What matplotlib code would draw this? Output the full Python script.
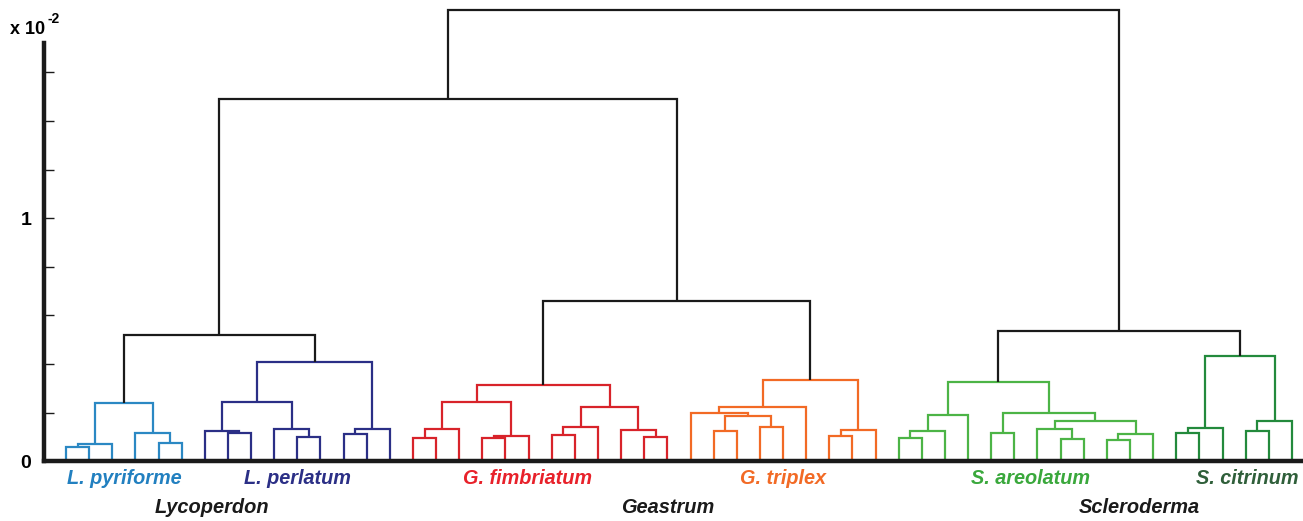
import matplotlib.pyplot as plt

# Subtrees for each species: (left, right, height); ints are leaf numbers within the species
species_names = ['L. pyriforme', 'L. perlatum', 'G. fimbriatum',
                 'G. triplex', 'S. areolatum', 'S. citrinum']
line_colors = ['#2b88c3', '#2b2f86', '#d8232a', '#f26a25', '#4cb446', '#238a3c']
text_colors = ['#2280c0', '#2b2f86', '#e8212a', '#f26a25', '#3aa83c', '#2f5f3a']

pyriforme = (((0, 1, 0.060), 2, 0.070), (3, (4, 5, 0.074), 0.118), 0.239)
perlatum = (((0, (1, 2, 0.115), 0.125), (3, (4, 5, 0.099), 0.133), 0.245),
            ((6, 7, 0.112), 8, 0.133), 0.410)
fimbriatum = ((((0, 1, 0.095), 2, 0.132), ((3, 4, 0.095), 5, 0.104), 0.245),
              (((6, 7, 0.108), 8, 0.140), (9, (10, 11, 0.099), 0.128), 0.222), 0.313)
triplex = (((0, ((1, 2, 0.125), (3, 4, 0.140), 0.188), 0.200), 5, 0.225),
           ((6, 7, 0.104), 8, 0.129), 0.335)
areolatum = ((((0, 1, 0.095), 2, 0.125), 3, 0.190),
             ((4, 5, 0.115), ((6, (7, 8, 0.090), 0.133), ((9, 10, 0.088), 11, 0.112), 0.166), 0.200),
             0.325)
citrinum = (((0, 1, 0.118), 2, 0.136), ((3, 4, 0.125), 5, 0.167), 0.433)
species_trees = [pyriforme, perlatum, fimbriatum, triplex, areolatum, citrinum]

# genus level joins (pairs of species) and the two top joins
genus_names = ['Lycoperdon', 'Geastrum', 'Scleroderma']
genus_heights = [0.520, 0.660, 0.536]
lyco_geastrum_height = 1.491
root_height = 1.858

tick_values = [0, 0.2, 0.4, 0.6, 0.8, 1.0, 1.2, 1.4, 1.6]
tick_labels = ['0', '', '', '', '', '1', '', '', '']

plt.rcParams['font.family'] = ['Liberation Sans', 'DejaVu Sans']

fig = plt.figure(figsize=(13.03, 5.21), dpi=100)
ax = fig.add_axes([0, 0, 1, 1])

LW = 1.6


def count_leaves(node):
    if isinstance(node, int):
        return 1
    return count_leaves(node[0]) + count_leaves(node[1])


def draw(node, offset, color):
    if isinstance(node, int):
        return offset + node, 0.0
    left, right, h = node
    xl, yl = draw(left, offset, color)
    xr, yr = draw(right, offset, color)
    ax.plot([xl, xl, xr, xr], [yl, h, h, yr], color=color, lw=LW,
            solid_joinstyle='miter', solid_capstyle='butt')
    return (xl + xr) / 2, h


def join(a, b, h):
    ax.plot([a[0], a[0], b[0], b[0]], [a[1], h, h, b[1]], color='#1a1a1a', lw=LW,
            solid_joinstyle='miter', solid_capstyle='butt')
    return (a[0] + b[0]) / 2, h


# species clusters
tops = []
centers = []
offset = 0
for tree, color in zip(species_trees, line_colors):
    n = count_leaves(tree)
    tops.append(draw(tree, offset, color))
    centers.append(offset + (n - 1) / 2)
    offset += n

# genus clusters and the top of the tree
genus_tops = [join(tops[2 * g], tops[2 * g + 1], genus_heights[g]) for g in range(3)]
upper = join(genus_tops[0], genus_tops[1], lyco_geastrum_height)
join(upper, genus_tops[2], root_height)

# species labels
label_nudge = [0, 0, -0.55, 0, 0.2, 0.55]
for name, color, c, dx in zip(species_names, text_colors, centers, label_nudge):
    ax.text(c + dx, -0.069, name, color=color, ha='center', va='center',
            fontsize=14.3, fontweight='bold', fontstyle='italic')

genus_x = [6.3, 26.0, 46.4]
for name, gx in zip(genus_names, genus_x):
    ax.text(gx, -0.192, name, color='#1a1a1a', ha='center', va='center',
            fontsize=14.4, fontweight='bold', fontstyle='italic')

# axes
ax.set_xlim(-2.853, 53.48)
ax.set_ylim(-0.2457, 1.898)
for s in ['top', 'right']:
    ax.spines[s].set_visible(False)
ax.spines['left'].set_position(('data', -0.951))
ax.spines['left'].set_bounds(0, 1.72)
ax.spines['bottom'].set_position(('data', 0))
ax.spines['bottom'].set_bounds(-0.951, 53.48)
for s in ['left', 'bottom']:
    ax.spines[s].set_linewidth(3.2)
    ax.spines[s].set_color('#1a1a1a')
    ax.spines[s].set_zorder(5)
ax.set_xticks([])
ax.set_yticks(tick_values)
ax.set_yticklabels(tick_labels, fontsize=14, fontweight='bold')
ax.tick_params(axis='y', direction='in', length=7.5, width=1, pad=9, color='#1a1a1a')
ax.patch.set_visible(False)

fig.text(10 / 1303, 1 - 30 / 521, 'x 10', fontsize=13, fontweight='bold', va='center')
fig.text(47 / 1303, 1 - 19 / 521, '-2', fontsize=10, fontweight='bold', va='center')

fig.savefig('out.png', dpi=100)
